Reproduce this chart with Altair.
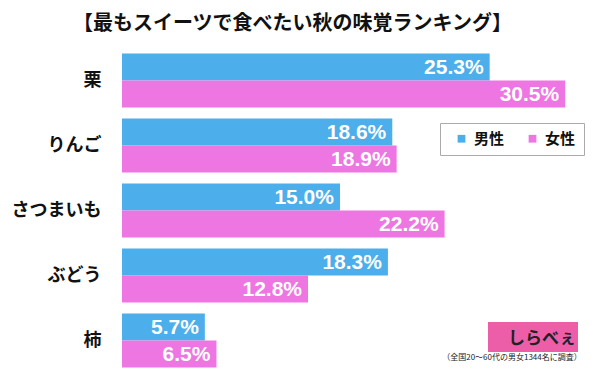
import altair as alt
import pandas as pd

categories = ["栗", "りんご", "さつまいも", "ぶどう", "柿"]
male = [25.3, 18.6, 15.0, 18.3, 5.7]
female = [30.5, 18.9, 22.2, 12.8, 6.5]
genders = ["男性", "女性"]
colors = ["#4CAEEA", "#EE76E2"]
title_text = "【最もスイーツで食べたい秋の味覚ランキング】"
note_text = "（全国20～60代の男女1344名に調査）"
logo_text = "しらべぇ"

rows = []
for c, m, f in zip(categories, male, female):
    rows.append({"cat": c, "gender": genders[0], "value": m})
    rows.append({"cat": c, "gender": genders[1], "value": f})
df = pd.DataFrame(rows)

W, H = 465, 325

base = alt.Chart(df).encode(
    y=alt.Y("cat:N", sort=categories,
            scale=alt.Scale(paddingInner=0.172, paddingOuter=0.086),
            axis=alt.Axis(title=None, domain=False, ticks=False, labelFontSize=18,
                          labelFontWeight="bold", labelColor="#111111", labelPadding=21,
                          labelFont="Noto Sans CJK JP")),
    yOffset=alt.YOffset("gender:N", sort=genders, scale=alt.Scale(paddingInner=0, paddingOuter=0)),
    x=alt.X("value:Q", scale=alt.Scale(domain=[0, 32]), axis=None),
)

bars = base.mark_bar().encode(
    color=alt.Color("gender:N", sort=genders,
                    scale=alt.Scale(domain=genders, range=colors),
                    legend=alt.Legend(title=None, orient="none", legendX=318, legendY=75,
                                      direction="horizontal", symbolType="square",
                                      symbolSize=60, symbolStrokeWidth=0,
                                      labelFontSize=15, labelFontWeight="bold",
                                      labelFont="Noto Sans CJK JP", labelColor="#111111",
                                      strokeColor="#aaaaaa", padding=8, columnPadding=14,
                                      labelOffset=5, symbolOffset=6))
)

labels = base.transform_calculate(
    label="format(datum.value, '.1f') + '%'"
).mark_text(align="right", baseline="middle", dx=-6, dy=1, color="white",
            fontSize=21, fontWeight="bold", font="Liberation Sans").encode(
    text="label:N"
)

logo_df = pd.DataFrame({"t": [logo_text], "n": [note_text]})
logo_rect = alt.Chart(logo_df).mark_rect(color="#EC5FA8").encode(
    x=alt.value(366), x2=alt.value(456), y=alt.value(274), y2=alt.value(304)
)
logo_txt = alt.Chart(logo_df).mark_text(align="left", baseline="middle", fontSize=17,
                                        fontWeight="bold", color="#222222",
                                        font="Noto Sans CJK JP").encode(
    x=alt.value(386), y=alt.value(291), text="t:N"
)
note = alt.Chart(logo_df).mark_text(align="center", baseline="middle", fontSize=8,
                                    color="#222222", font="Noto Sans CJK JP").encode(
    x=alt.value(390), y=alt.value(310), text="n:N"
)

chart = alt.layer(bars, labels, logo_rect, logo_txt, note).properties(
    width=W, height=H,
    autosize=alt.AutoSizeParams(type="none"),
    padding={"left": 114, "top": 40, "right": 0, "bottom": 0},
    title=alt.TitleParams(title_text, anchor="middle", frame="group", dx=-62, offset=14,
                          fontSize=20, fontWeight="bold", font="Noto Sans CJK JP",
                          color="#111111"),
).configure_view(stroke=None)

chart.save("out.html", embed_options={"renderer": "svg", "actions": False})
